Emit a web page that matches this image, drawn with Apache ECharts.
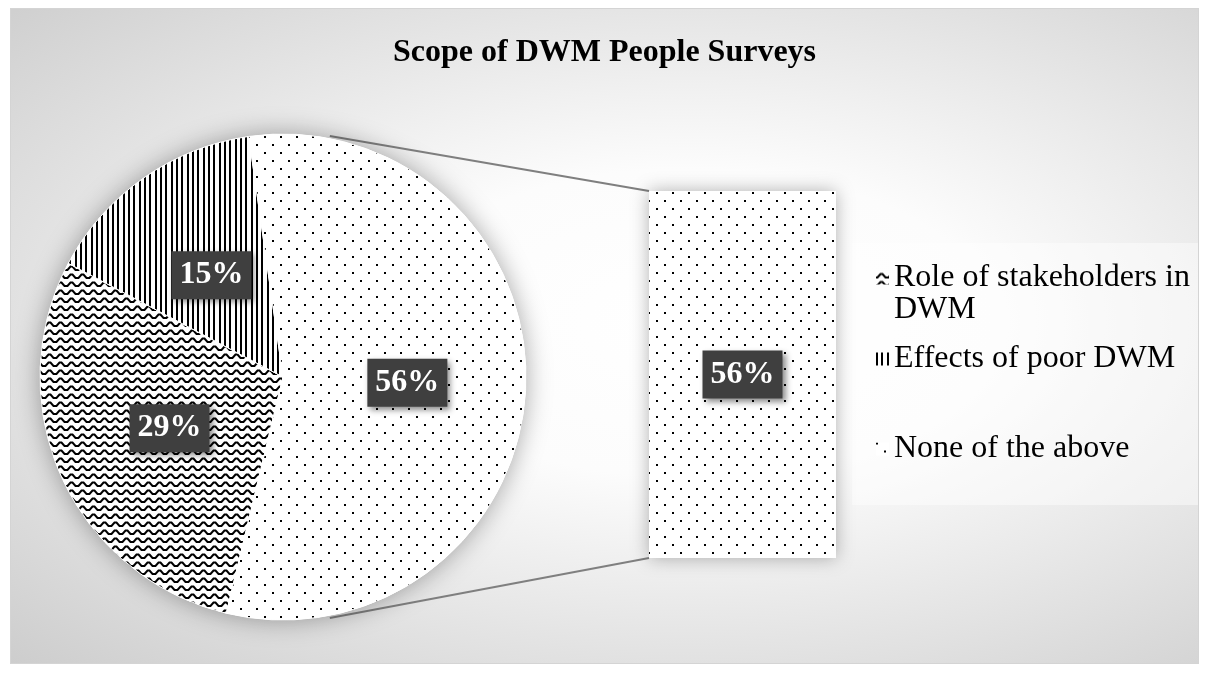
<!DOCTYPE html>
<html>
<head>
<meta charset="utf-8">
<script src="https://cdn.jsdelivr.net/npm/echarts@6/dist/echarts.min.js"></script>
<style>
  html, body { margin: 0; padding: 0; background: #ffffff; }
  #frame {
    position: absolute; left: 10px; top: 8px; width: 1187px; height: 654px;
    border: 1px solid #d4d4d4;
    background: radial-gradient(ellipse farthest-corner at 57% 48%, #ffffff 0%, #fcfcfc 32%, #cdcdcd 100%);
  }
  #chart { position: absolute; left: 0; top: 0; width: 1209px; height: 674px; }
</style>
</head>
<body>
<div id="frame"></div>
<div id="chart"></div>
<script>
// Survey scope shares (percent of respondents)
const categories = ['Role of stakeholders in DWM', 'Effects of poor DWM', 'None of the above'];
const shares = [29, 15, 56];
// Slice broken out into the secondary bar
const splitCategory = ['None of the above'];
const splitShares = [56];

// Layout constants
const PIE_CENTER = [283, 377];
const PIE_RADIUS = 243;
const BAR_GRID = { left: 649, top: 191, width: 187, height: 367 };
const FONT = '"Liberation Serif", "Times New Roman", serif';

// Fill patterns
function makeTile(w, h, draw) {
  const c = document.createElement('canvas');
  c.width = w; c.height = h;
  const g = c.getContext('2d');
  g.fillStyle = '#ffffff';
  g.fillRect(0, 0, w, h);
  g.fillStyle = '#000000';
  g.strokeStyle = '#000000';
  draw(g);
  return c;
}
const dotTile = makeTile(16, 16, g => {
  g.fillRect(0, 0, 2, 2);
  g.fillRect(8, 8, 2, 2);
});
const lineTile = makeTile(16, 4, g => {
  g.fillRect(0, 0, 2, 4);
  g.fillRect(5, 0, 2, 4);
  g.fillRect(11, 0, 2, 4);
});
const waveTile = makeTile(11, 8, g => {
  g.lineWidth = 2;
  g.lineJoin = 'miter';
  g.beginPath();
  g.moveTo(-1, 6);
  g.lineTo(1.5, 6);
  g.lineTo(4.5, 2.5);
  g.lineTo(6.5, 2.5);
  g.lineTo(9.5, 6);
  g.lineTo(12, 6);
  g.stroke();
});
const patterns = [
  { image: waveTile, repeat: 'repeat' },
  { image: lineTile, repeat: 'repeat' },
  { image: dotTile, repeat: 'repeat' }
];

const valueLabel = {
  show: true,
  formatter: '{c}%',
  color: '#ffffff',
  fontFamily: FONT,
  fontWeight: 'bold',
  fontSize: 32,
  backgroundColor: '#3f3f3f',
  padding: [8, 8, 8, 8],
  shadowColor: 'rgba(0,0,0,0.45)',
  shadowBlur: 6,
  shadowOffsetX: 3,
  shadowOffsetY: 3
};

const legendText = { fontFamily: FONT, fontSize: 32, color: '#000000', lineHeight: 32 };
function legendFor(name, top) {
  return {
    data: [name],
    orient: 'vertical',
    left: 876,
    top: top,
    padding: 0,
    icon: 'rect',
    itemWidth: 13,
    itemHeight: 13,
    itemGap: 0,
    selectedMode: false,
    itemStyle: { shadowBlur: 0, borderWidth: 0 },
    textStyle: legendText,
    // the blank first line keeps the icon level with the first text line
    formatter: n => n === categories[0] ? ' \nRole of stakeholders in\nDWM' : n
  };
}

const chart = echarts.init(document.getElementById('chart'), null, { renderer: 'canvas' });

const option = {
  backgroundColor: 'transparent',
  animation: false,
  title: {
    text: 'Scope of DWM People Surveys',
    left: 'center',
    top: 32,
    textStyle: { fontFamily: FONT, fontWeight: 'bold', fontSize: 32, color: '#000000' }
  },
  legend: [
    legendFor(categories[0], 230),
    legendFor(categories[1], 343),
    legendFor(categories[2], 433)
  ],
  grid: Object.assign({ containLabel: false }, BAR_GRID),
  xAxis: { type: 'category', data: splitCategory, show: false },
  yAxis: { type: 'value', min: 0, max: splitShares[0], show: false },
  graphic: [
    {
      type: 'rect',
      z: 0,
      silent: true,
      shape: { x: 852, y: 243, width: 346, height: 262 },
      style: { fill: 'rgba(255,255,255,0.45)' }
    }
  ],
  series: [
    {
      // soft drop shadow under the pie
      type: 'pie',
      silent: true,
      z: 1,
      center: PIE_CENTER,
      radius: PIE_RADIUS,
      label: { show: false },
      labelLine: { show: false },
      itemStyle: { color: '#ffffff', shadowBlur: 26, shadowColor: 'rgba(0,0,0,0.35)' },
      data: [{ value: 1, name: '_base' }]
    },
    {
      type: 'pie',
      z: 3,
      center: PIE_CENTER,
      radius: PIE_RADIUS,
      startAngle: 256.5,
      clockwise: true,
      label: Object.assign({ position: 'inside' }, valueLabel),
      labelLine: { show: false },
      emphasis: { disabled: true },
      itemStyle: { borderColor: '#ffffff', borderWidth: 1 },
      data: categories.map((name, i) => ({
        name: name,
        value: shares[i],
        itemStyle: { color: patterns[i] }
      }))
    },
    {
      type: 'bar',
      name: 'split',
      z: 3,
      barWidth: '100%',
      label: Object.assign({ position: 'inside' }, valueLabel),
      emphasis: { disabled: true },
      itemStyle: { color: patterns[2], shadowBlur: 18, shadowColor: 'rgba(0,0,0,0.3)' },
      data: splitShares
    }
  ]
};

chart.setOption(option);

// Connector lines from the pie rim to the corners of the bar
const topPx = chart.convertToPixel({ xAxisIndex: 0, yAxisIndex: 0 }, [0, splitShares[0]]);
const bottomPx = chart.convertToPixel({ xAxisIndex: 0, yAxisIndex: 0 }, [0, 0]);
const barLeft = topPx[0] - BAR_GRID.width / 2;
const rimR = PIE_RADIUS * 1.01;
const rimA = 11 * Math.PI / 180;
const rimTop = [PIE_CENTER[0] + rimR * Math.sin(rimA), PIE_CENTER[1] - rimR * Math.cos(rimA)];
const rimBottom = [PIE_CENTER[0] + rimR * Math.sin(rimA), PIE_CENTER[1] + rimR * Math.cos(rimA)];
const lineStyle = { stroke: '#7f7f7f', lineWidth: 2 };
chart.setOption({
  graphic: [
    option.graphic[0],
    { type: 'line', z: 1, silent: true, shape: { x1: rimTop[0], y1: rimTop[1], x2: barLeft, y2: topPx[1] }, style: lineStyle },
    { type: 'line', z: 1, silent: true, shape: { x1: rimBottom[0], y1: rimBottom[1], x2: barLeft, y2: bottomPx[1] }, style: lineStyle }
  ]
});
</script>
</body>
</html>
